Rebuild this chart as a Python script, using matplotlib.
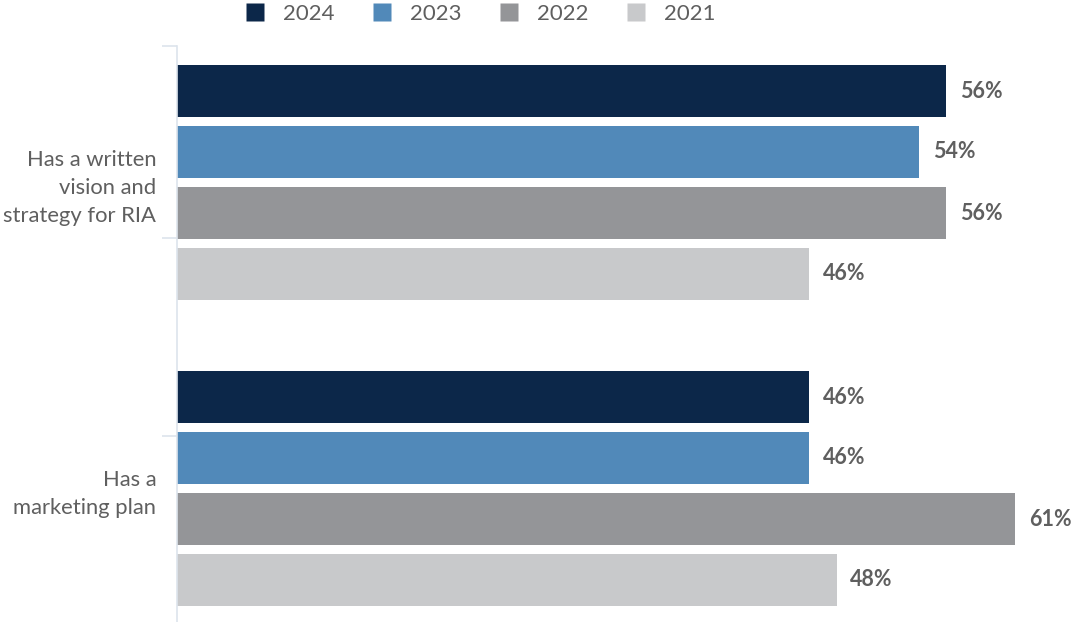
import numpy as np
import matplotlib
matplotlib.use("Agg")
import matplotlib.pyplot as plt
from matplotlib.lines import Line2D

plt.rcParams['font.family'] = ['Lato', 'DejaVu Sans']

# survey results, percent of firms
categories = ['Has a written\nvision and\nstrategy for RIA', 'Has a\nmarketing plan']
years = ['2024', '2023', '2022', '2021']
colors = ['#0c2749', '#5189b9', '#949598', '#c8c9cb']
values = {
    '2024': [56, 46],
    '2023': [54, 46],
    '2022': [56, 61],
    '2021': [46, 48],
}

text_color = '#5f5f5f'
axis_color = '#dde4ec'

fig = plt.figure(figsize=(10.73, 6.22), dpi=100)
ax = fig.add_axes([177 / 1073, 0.0, 1 - 177 / 1073, 1 - 46 / 622])

# layout in pixel-like units along the category axis
bar_h = 52
pitch = 61
group_pitch = 306
first = 45

for i, yr in enumerate(years):
    ys = [first + g * group_pitch + i * pitch for g in range(len(categories))]
    bars = ax.barh(ys, values[yr], height=bar_h, color=colors[i], label=yr)
    for y, v in zip(ys, values[yr]):
        ax.text(v + 1.0, y, '%d%%' % v, va='center', ha='left',
                fontsize=15.5, fontweight='bold', color=text_color)

ax.set_ylim(576, 0)
ax.set_xlim(0, 896 / 13.74)

centers = [first + g * group_pitch + 1.5 * pitch for g in range(len(categories))]
ax.set_yticks(centers)
ax.set_yticklabels(categories, fontsize=15.8, color=text_color, linespacing=1.5)
ax.tick_params(axis='y', which='major', length=0, pad=15)
ax.set_yticks([0, 192, 390], minor=True)
ax.tick_params(axis='y', which='minor', length=11, width=1.2, color=axis_color)
ax.set_xticks([])

for s in ['top', 'right', 'bottom']:
    ax.spines[s].set_visible(False)
ax.spines['left'].set_color(axis_color)
ax.spines['left'].set_linewidth(1.2)

handles = [Line2D([], [], linestyle='none', marker='s', markersize=12.3,
                  markerfacecolor=c, markeredgecolor='none') for c in colors]
fig.legend(handles, years, loc='upper center', bbox_to_anchor=(481 / 1073, 0.995),
           ncol=4, frameon=False, fontsize=16, labelcolor=text_color,
           handlelength=0.8, handletextpad=0.85, columnspacing=1.75,
           borderpad=0.05, borderaxespad=0)

fig.savefig('out.png', dpi=100)
